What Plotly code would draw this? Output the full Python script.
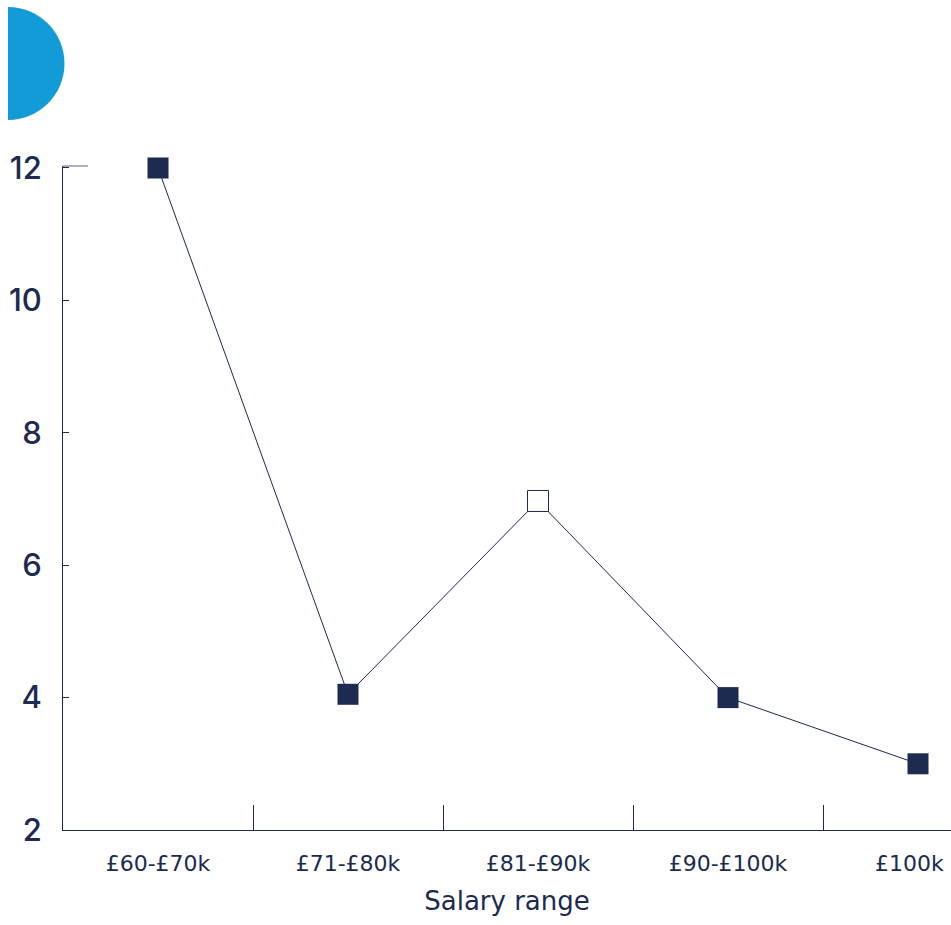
import plotly.graph_objects as go

categories = ["£60-£70k", "£71-£80k", "£81-£90k", "£90-£100k", "£100k"]
values = [12, 4.05, 6.97, 4.0, 3.0]
hollow = [False, False, True, False, False]
y_ticks = [2, 4, 6, 8, 10, 12]

NAVY = "#1c2b4f"
BLUE = "#139bd8"
W, H = 951, 925
L, R, T, B = 63, 0, 166, 95
PW, PH = W - L - R, H - T - B

def px2paper(x, y):
    return (x - L) / PW, (H - B - y) / PH

fig = go.Figure()
fig.add_trace(go.Scatter(
    x=categories, y=values, mode="lines+markers",
    line=dict(color=NAVY, width=1),
    marker=dict(symbol="square", size=21,
                color=["white" if h else NAVY for h in hollow],
                line=dict(color=NAVY, width=[1 if h else 0 for h in hollow])),
    cliponaxis=False, showlegend=False,
))

# blue half circle (decorative) via bezier path
cx, cy, r = 8, 63.5, 56.5
k = 0.5523 * r
pts = [(cx, cy - r), (cx + k, cy - r), (cx + r, cy - k), (cx + r, cy),
       (cx + r, cy + k), (cx + k, cy + r), (cx, cy + r)]
pp = [px2paper(*p) for p in pts]
path = "M {0},{1} C {2},{3} {4},{5} {6},{7} C {8},{9} {10},{11} {12},{13} Z".format(
    *[c for p in pp for c in p])
shapes = [dict(type="path", xref="paper", yref="paper", path=path,
               fillcolor=BLUE, line=dict(width=0))]
# short cap line at top of y axis
x0, y0 = px2paper(63, 166)
x1, _ = px2paper(88, 166)
shapes.append(dict(type="line", xref="paper", yref="paper", x0=x0, x1=x1, y0=y0, y1=y0,
                   line=dict(color="#5d6780", width=1)))

# last label is placed as an annotation, nudged left so it fits in the page
tick_text = categories[:-1] + [""]
annotations = [dict(x=categories[-1], xref="x", y=0, yref="paper",
                    text=categories[-1], showarrow=False,
                    xanchor="right", xshift=28, yanchor="middle", yshift=-33,
                    font=dict(family="DejaVu Sans, sans-serif", size=22, color=NAVY))]

fig.update_layout(
    width=W, height=H, margin=dict(l=L, r=R, t=T, b=B),
    paper_bgcolor="white", plot_bgcolor="white",
    font=dict(family="DejaVu Sans, sans-serif", color=NAVY),
    shapes=shapes, annotations=annotations,
    xaxis=dict(
        type="category", range=[-0.5, -0.5 + PW / 190.0], automargin=False,
        tickvals=categories, ticktext=tick_text,
        showline=True, linecolor=NAVY, linewidth=1,
        ticks="inside", tickson="boundaries", ticklen=25, tickcolor=NAVY, tickwidth=1,
        showgrid=False, zeroline=False,
        tickfont=dict(size=22, color=NAVY), ticklabelstandoff=14,
        title=dict(text="Salary range", font=dict(size=26, color=NAVY), standoff=16),
    ),
    yaxis=dict(
        range=[2, 12.03], tickvals=y_ticks, automargin=False,
        showline=True, linecolor=NAVY, linewidth=1,
        ticks="inside", ticklen=6, tickcolor=NAVY, tickwidth=1,
        showgrid=False, zeroline=False,
        tickfont=dict(family="Inter, sans-serif", size=31, weight=500, color=NAVY),
        ticklabelstandoff=14,
    ),
)

fig.write_html("out.html")
